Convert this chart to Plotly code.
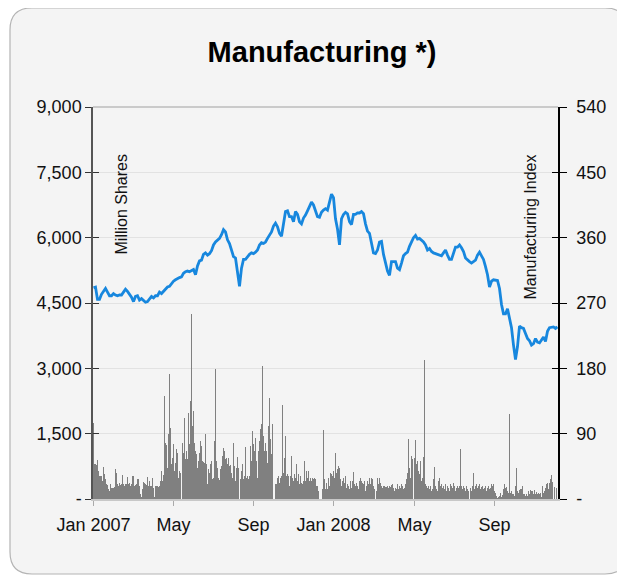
import numpy as np
import plotly.graph_objects as go

# ---------------- data ----------------
# daily trading volume, million shares (one value per trading day, Jan 2007 -> early Dec 2008)
volume = [
    1740, 800, 800, 780, 890, 640, 530, 530, 520, 410, 730, 570, 450, 340, 330, 220, 185, 340, 260, 245,
    250, 275, 700, 600, 340, 300, 360, 330, 340, 550, 340, 300, 350, 340, 505, 340, 360, 300, 340, 520,
    530, 300, 330, 340, 450, 450, 300, 110, 30, 220, 380, 370, 340, 330, 505, 300, 410, 300, 300, 490,
    260, 30, 300, 290, 300, 280, 300, 410, 640, 410, 560,
    2356, 1293, 1250, 719, 1484, 2861, 1622, 796, 949, 1255, 643, 834, 1140, 1063, 490, 643, 600, 0,
    1293, 1063, 1867, 910, 1102, 910, 1981, 1255, 2249, 4238, 1675, 2020, 1293, 1102, 1025, 719, 872,
    1063, 1331, 1216, 872, 857, 834, 1484, 796, 337, 681, 604, 796, 872, 451, 490, 1331, 2976, 872, 719,
    490, 428, 681, 757, 987, 1178, 1102, 910, 949, 796, 949, 757, 780, 600, 490, 1293, 757, 413, 719,
    964, 719, 0, 451, 643, 796, 451, 528, 1201, 490, 528, 451, 528, 1216, 872, 1561, 1255, 1102, 1408,
    872, 490, 1102, 1331, 1599, 1714, 3052, 1446, 1102, 1293, 1102, 834, 1675, 2326, 1369, 1025, 1714,
    0, 0, 337, 337, 490, 528, 375, 490, 528, 2150, 604, 949, 1446, 528, 566, 528, 298, 528, 987, 490,
    413, 566, 490, 796, 413, 566, 337, 528, 375, 337, 413, 872, 413, 643, 490, 643, 413, 490, 413, 490,
    451, 490, 451, 298, 298, 184, 0, 0, 0, 222, 1576,
    451, 222, 375, 222, 490, 298, 604, 566, 528, 643, 490, 1048, 604, 681, 757, 719, 451, 298, 413, 490,
    375, 528, 260, 337, 298, 222, 413, 260, 413, 627, 337, 298, 375, 298, 222, 413, 490, 413, 375, 337,
    413, 184, 298, 413, 337, 490, 337, 474, 451, 298, 222, 0, 184, 490, 337, 474, 375, 298, 260, 298,
    298, 275, 275, 298, 260, 298, 275, 321, 337, 260, 184, 260, 222, 337, 222, 298, 260, 337, 298, 222,
    260, 337, 451, 604, 1369, 719, 490, 987, 910, 0, 933, 1346, 796, 872, 643, 566, 872, 413, 490, 964,
    3182, 337, 298, 260, 298, 222, 298, 184, 222, 451, 742, 298, 222, 184, 413, 490, 298, 337, 260, 298,
    222, 337, 184, 298, 260, 184, 337, 298, 260, 375, 298, 184, 260, 298, 260, 298, 1155, 298, 222, 298,
    260, 184, 298, 222, 184, 0, 260, 184, 298, 604, 222, 298, 337, 260, 298, 337, 222, 275, 298, 222,
    245, 298, 184, 260, 298, 222, 260, 337, 298, 337, 184, 145, 69, 15, 31, 69, 145, 31, 92, 222,
    337, 260, 275, 184, 145, 1943, 145, 184, 122, 107, 69, 298, 719, 184, 145, 199, 222, 222, 298, 122,
    107, 69, 107, 69, 184, 107, 199, 184, 184, 107, 199, 107, 168, 122, 145, 107, 145, 31, 298, 145,
    184, 260, 337, 375, 222, 375, 451, 551, 380, 0, 270, 0, 260,
]

# Manufacturing index, sampled every second trading day
index_values = [
    291, 292, 275, 275, 282, 287, 290, 285, 280, 280,
    283, 281, 280, 281, 281, 285, 289, 286, 282, 278,
    272, 279, 280, 274, 276, 273, 271, 272, 275, 279,
    277, 280, 280, 285, 283, 286, 289, 292, 293, 297,
    300, 302, 304, 305, 306, 311, 313, 314, 313, 315,
    316, 309, 321, 328, 329, 337, 339, 336, 338, 342,
    350, 354, 356, 359, 364, 371, 368, 357, 352, 344,
    334, 332, 310, 293, 318, 330, 330, 334, 337, 339,
    338, 340, 343, 350, 353, 352, 354, 359, 363, 368,
    376, 380, 375, 366, 362, 381, 396, 397, 389, 389,
    382, 396, 392, 382, 379, 387, 391, 397, 403, 409,
    405, 398, 389, 388, 395, 398, 400, 398, 410, 420,
    415, 386, 372, 350, 386, 392, 395, 393, 382, 378,
    392, 392, 394, 394, 396, 393, 379, 369, 366, 352,
    339, 338, 343, 354, 355, 337, 323, 314, 308, 327,
    327, 327, 318, 316, 325, 335, 338, 340, 348, 355,
    360, 363, 358, 359, 357, 354, 350, 343, 345, 341,
    339, 338, 337, 337, 335, 339, 343, 336, 330, 330,
    340, 347, 347, 350, 346, 341, 332, 329, 327, 325,
    327, 329, 336, 340, 335, 330, 320, 309, 292, 300,
    302, 301, 301, 290, 268, 255, 255, 262, 250, 236,
    212, 192, 210, 238, 236, 235, 228, 221, 218, 212,
    214, 221, 216, 215, 219, 223, 217, 231, 236, 237,
    237, 235, 237,
]

# month labels and the trading-day index where each month starts
month_labels = ["Jan 2007", "May", "Sep", "Jan 2008", "May", "Sep"]
month_start_day = [0, 80, 160, 240, 321, 401]

left_ticks = [0, 1500, 3000, 4500, 6000, 7500, 9000]
left_labels = ["-", "1,500", "3,000", "4,500", "6,000", "7,500", "9,000"]
right_ticks = [0, 90, 180, 270, 360, 450, 540]
right_labels = ["-", "90", "180", "270", "360", "450", "540"]

title_text = "Manufacturing *)"
left_title = "Million Shares"
right_title = "Manufacturing Index"

# ---------------- figure ----------------
FONT = "Liberation Sans, Arial, sans-serif"
OFF = 8                      # page body margin of the browser
W, H = 625, 575
ML, MT = 93 - OFF, 107 - OFF
PW, PH = 465, 392
MR, MB = W - ML - PW, H - MT - PH

day = np.arange(len(volume))
line_day = np.arange(len(index_values)) * 2

fig = go.Figure()
fig.add_trace(go.Bar(x=day, y=volume, width=1.0, marker=dict(color="#808080", line=dict(width=0)),
                     showlegend=False, hoverinfo="skip"))
fig.add_trace(go.Scatter(x=line_day, y=index_values, yaxis="y2", mode="lines",
                         line=dict(color="#1787de", width=2.8), showlegend=False, hoverinfo="skip"))
# empty helper traces so the inner tick marks (y3 / y4) are drawn
fig.add_trace(go.Scatter(x=[], y=[], yaxis="y3", showlegend=False, hoverinfo="skip"))
fig.add_trace(go.Scatter(x=[], y=[], yaxis="y4", showlegend=False, hoverinfo="skip"))


def px_x(p):  # reference screen pixel -> paper x
    return (p - OFF - ML) / PW


def px_y(p):  # reference screen pixel -> paper y
    return (MT + PH - (p - OFF)) / PH


# rounded outer frame
L, R, T, B = px_x(10), px_x(627), px_y(8), px_y(574)
rx, ry = 22 / PW, 22 / PH
path = (f"M {L+rx},{T} L {R-rx},{T} Q {R},{T} {R},{T-ry} L {R},{B+ry} Q {R},{B} {R-rx},{B} "
        f"L {L+rx},{B} Q {L},{B} {L},{B+ry} L {L},{T-ry} Q {L},{T} {L+rx},{T} Z")
shapes = [
    dict(type="path", xref="paper", yref="paper", path=path, fillcolor="#f4f4f4",
         line=dict(color="#b4b4b4", width=1.2), layer="below"),
    dict(type="line", xref="paper", yref="paper", x0=0, x1=1, y0=1, y1=1,
         line=dict(color="#a0a0a0", width=1), layer="above"),
]

fig.update_layout(
    width=W, height=H, autosize=False,
    margin=dict(l=ML, r=MR, t=MT, b=MB, pad=0),
    paper_bgcolor="white", plot_bgcolor="rgba(0,0,0,0)",
    font=dict(family=FONT, color="#111111"),
    bargap=0,
    shapes=shapes,
    title=dict(text=f"<b>{title_text}</b>", x=(322 - OFF) / W, xanchor="center",
               y=1 - (52 - OFF) / H, yanchor="middle", yref="container",
               font=dict(size=29, family=FONT, color="#000000")),
    xaxis=dict(range=[-0.5, len(volume) + 0.5], tickmode="array", tickvals=month_start_day,
               ticktext=month_labels, ticks="outside", ticklen=5, tickcolor="#aaaaaa", tickwidth=1,
               showline=True, linecolor="#c8c8c8", linewidth=2, showgrid=False, zeroline=False,
               tickfont=dict(size=18, color="#111111"), ticklabelstandoff=3, fixedrange=True),
    yaxis=dict(range=[0, 9000], tickmode="array", tickvals=left_ticks, ticktext=left_labels,
               ticks="outside", ticklen=6, tickcolor="#333333", tickwidth=1.2,
               showline=True, linecolor="#555555", linewidth=1.5,
               showgrid=True, gridcolor="#e2e2e2", gridwidth=1, zeroline=False,
               tickfont=dict(size=18, color="#111111"), ticklabelstandoff=0),
    yaxis2=dict(range=[0, 540], overlaying="y", side="right", tickmode="array",
                tickvals=right_ticks, ticktext=right_labels, ticks="outside", ticklen=7,
                tickcolor="#000000", tickwidth=1.2, showline=True, linecolor="#000000", linewidth=1.5,
                showgrid=False, zeroline=False, tickfont=dict(size=18, color="#111111"),
                ticklabelstandoff=6),
    yaxis3=dict(range=[0, 9000], overlaying="y", side="left", tickmode="array", tickvals=left_ticks,
                ticks="inside", ticklen=6, tickcolor="#333333", tickwidth=1.2, showticklabels=False,
                showline=False, showgrid=False, zeroline=False),
    yaxis4=dict(range=[0, 540], overlaying="y", side="right", tickmode="array", tickvals=right_ticks,
                ticks="inside", ticklen=6, tickcolor="#000000", tickwidth=1.2, showticklabels=False,
                showline=False, showgrid=False, zeroline=False),
    annotations=[
        dict(text=left_title, xref="paper", yref="paper", x=px_x(120.5), y=px_y(153),
             xanchor="center", yanchor="top", textangle=-90, showarrow=False,
             font=dict(size=16, family=FONT, color="#111111")),
        dict(text=right_title, xref="paper", yref="paper", x=px_x(530), y=px_y(153),
             xanchor="center", yanchor="top", textangle=-90, showarrow=False,
             font=dict(size=16, family=FONT, color="#111111")),
    ],
)

fig.write_html("out.html")
